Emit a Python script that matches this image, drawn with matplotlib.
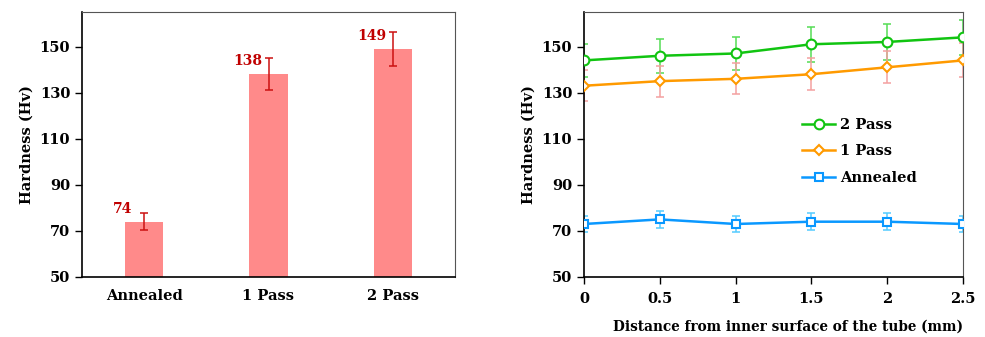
import matplotlib.pyplot as plt

plt.rcParams['font.family'] = 'DejaVu Serif'
plt.rcParams['font.weight'] = 'bold'

# bar chart data
samples = ['Annealed', '1 Pass', '2 Pass']
mean_hv = [74, 138, 149]
err_hv = [3.6, 7.0, 7.5]

# profile data
dist = [0, 0.5, 1, 1.5, 2, 2.5]
hv_2pass = [144, 146, 147, 151, 152, 154]
err_2pass = [7.0, 7.3, 7.3, 7.5, 7.7, 7.7]
hv_1pass = [133, 135, 136, 138, 141, 144]
err_1pass = [6.8, 6.7, 6.8, 7.0, 7.0, 7.4]
hv_ann = [73, 75, 73, 74, 74, 73]
err_ann = [3.6, 3.8, 3.6, 3.6, 3.6, 3.6]

yticks = [50, 70, 90, 110, 130, 150]

fig = plt.figure(figsize=(9.85, 3.37), dpi=100)
W, H = 985, 337

# ---- left: bars ----
ax1 = fig.add_axes([82 / W, 60 / H, 373 / W, 265 / H])
x = range(len(samples))
ax1.bar(x, mean_hv, width=0.31, color='#FF8A8A')
ax1.errorbar(x, mean_hv, yerr=err_hv, fmt='none', ecolor='#CC1111',
             elinewidth=1.1, capsize=3, capthick=1.1)
for i, v in enumerate(mean_hv):
    ax1.text(i - 0.17, v + 2.5, str(v), color='#C00000', fontsize=10,
             fontweight='bold', ha='center', va='bottom')
ax1.set_xlim(-0.5, 2.5)
ax1.set_ylim(50, 165)
ax1.set_yticks(yticks)
ax1.set_xticks(list(x))
ax1.set_xticklabels(samples)
ax1.tick_params(axis='x', length=0, pad=9, labelsize=10.5)
ax1.tick_params(axis='y', length=5, width=1, labelsize=10.5)
ax1.set_ylabel('Hardness (Hv)', fontsize=10.5, fontweight='bold')
ax1.spines['left'].set_linewidth(1.2)
ax1.spines['bottom'].set_linewidth(1.2)
ax1.spines['top'].set_color('#555555')
ax1.spines['right'].set_color('#555555')

# ---- right: profiles ----
ax2 = fig.add_axes([584 / W, 60 / H, 379 / W, 265 / H])
series = [
    (hv_2pass, err_2pass, '2 Pass', '#11C411', '#55DD55', 'o', 7),
    (hv_1pass, err_1pass, '1 Pass', '#FF9A00', '#F4A0A0', 'D', 5.5),
    (hv_ann, err_ann, 'Annealed', '#0A98FF', '#55CCFF', 's', 5.5),
]
for vals, errs, lab, col, ecol, mk, ms in series:
    ax2.errorbar(dist, vals, yerr=errs, fmt='none', ecolor=ecol,
                 elinewidth=1.1, capsize=3, capthick=1.1, zorder=2)
    ax2.plot(dist, vals, color=col, lw=1.8, marker=mk, ms=ms,
             mfc='white', mec=col, mew=1.5, label=lab, zorder=3)
ax2.set_xlim(0, 2.5)
ax2.set_ylim(50, 165)
ax2.set_yticks(yticks)
ax2.set_xticks(dist)
ax2.set_xticklabels(['0', '0.5', '1', '1.5', '2', '2.5'])
ax2.tick_params(axis='both', length=5, width=1, labelsize=10.5)
ax2.tick_params(axis='x', pad=6)
ax2.set_ylabel('Hardness (Hv)', fontsize=10.5, fontweight='bold')
ax2.set_xlabel('Distance from inner surface of the tube (mm)', fontsize=9.8,
               fontweight='bold', labelpad=10, loc='right')
ax2.spines['left'].set_linewidth(1.2)
ax2.spines['bottom'].set_linewidth(1.2)
ax2.spines['top'].set_color('#555555')
ax2.spines['right'].set_color('#555555')
ax2.legend(loc='upper left', bbox_to_anchor=(0.54, 0.65), frameon=False,
           handlelength=2.3, handletextpad=0.3, labelspacing=0.85,
           prop={'weight': 'bold', 'size': 10.5})

fig.savefig('out.png', dpi=100)
